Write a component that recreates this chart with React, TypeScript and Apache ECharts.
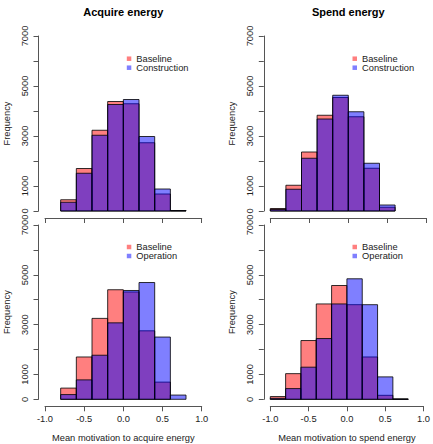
import React, { useEffect, useRef } from "react";
import * as echarts from "echarts";

// Histogram bin edges (width 0.2)
const binEdges = [-1.0, -0.8, -0.6, -0.4, -0.2, 0.0, 0.2, 0.4, 0.6, 0.8];

// Counts per bin (null = no bin drawn)
const acquireBaselineTop = [null, 450, 1700, 3230, 4380, 4290, 2730, 680, 15];
const acquireConstruction = [null, 350, 1510, 3030, 4260, 4460, 2980, 880, 20];
const spendBaselineTop = [100, 1030, 2360, 3830, 4540, 3770, 1710, 150, null];
const spendConstruction = [60, 870, 2110, 3680, 4630, 3970, 1910, 240, null];
const acquireBaselineBottom = [null, 450, 1700, 3250, 4400, 4310, 2750, 690, null];
const acquireOperation = [null, 190, 780, 1770, 3070, 4370, 4690, 2500, 170];
const spendBaselineBottom = [110, 1030, 2360, 3830, 4570, 3800, 1700, 160, 10];
const spendOperation = [40, 430, 1290, 2440, 3830, 4840, 3800, 900, 10];

const panelTitles = ["Acquire energy", "Spend energy"];
const xAxisTitles = ["Mean motivation to acquire energy", "Mean motivation to spend energy"];
const yTickLabels = [0, 1000, 3000, 5000, 7000];

const RED = "rgba(255,0,0,0.5)";
const BLUE = "rgba(0,0,255,0.5)";
const FONT = "Liberation Sans, Arial, Helvetica, sans-serif";
const FS = 9.3;

function toBins(counts: (number | null)[]) {
  const out: number[][] = [];
  counts.forEach((c, k) => {
    if (c != null) out.push([binEdges[k], binEdges[k + 1], c]);
  });
  return out;
}

function histSeries(name: string, counts: (number | null)[], color: string, idx: number) {
  return {
    type: "custom",
    name,
    xAxisIndex: idx,
    yAxisIndex: idx,
    itemStyle: { color },
    encode: { x: [0, 1], y: 2 },
    data: toBins(counts),
    renderItem: (params: any, api: any) => {
      const p0 = api.coord([api.value(0), api.value(2)]);
      const p1 = api.coord([api.value(1), 0]);
      return {
        type: "rect",
        shape: { x: p0[0], y: p0[1], width: p1[0] - p0[0], height: p1[1] - p0[1] },
        style: { fill: color, stroke: "rgba(0,0,0,0.8)", lineWidth: 1 },
      };
    },
  };
}

const grids = [
  { left: 45, top: 36, width: 156.7, height: 175 },
  { left: 270.3, top: 36, width: 156, height: 175 },
  { left: 45, top: 225, width: 156.7, height: 174.3 },
  { left: 270.3, top: 225, width: 156, height: 174.3 },
];

export default function App() {
  const ref = useRef<HTMLDivElement>(null);
  useEffect(() => {
    if (!ref.current) return;
    const chart = echarts.init(ref.current, undefined, { renderer: "svg" });
    const axisLineStyle = { color: "#555", width: 1 };
    const xAxes = grids.map((g, i) => ({
      type: "value",
      gridIndex: i,
      min: -1,
      max: 1,
      interval: 0.5,
      position: "bottom",
      offset: 7,
      axisLine: { show: true, onZero: false, lineStyle: axisLineStyle },
      axisTick: { show: true, length: 5, lineStyle: axisLineStyle },
      splitLine: { show: false },
      axisLabel: {
        show: i >= 2,
        margin: 8,
        fontSize: FS,
        fontFamily: FONT,
        color: "#222",
        formatter: (v: number) => v.toFixed(1),
      },
      name: i >= 2 ? xAxisTitles[i - 2] : "",
      nameLocation: "middle",
      nameGap: 27,
      nameTextStyle: { fontSize: FS, fontFamily: FONT, color: "#222" },
    }));
    const yAxes = grids.map((g, i) => ({
      type: "value",
      gridIndex: i,
      min: 0,
      max: 7000,
      interval: 1000,
      position: "left",
      offset: 6.5,
      axisLine: { show: true, onZero: false, lineStyle: axisLineStyle },
      axisTick: { show: true, length: 5, lineStyle: axisLineStyle },
      splitLine: { show: false },
      axisLabel: {
        rotate: 90,
        margin: 9,
        fontSize: FS,
        fontFamily: FONT,
        color: "#222",
        formatter: (v: number) => (yTickLabels.includes(v) ? String(v) : ""),
      },
      name: "Frequency",
      nameLocation: "middle",
      nameGap: 27,
      nameTextStyle: { fontSize: FS, fontFamily: FONT, color: "#222" },
    }));
    const legendBase = {
      orient: "vertical",
      icon: "rect",
      itemWidth: 4.5,
      itemHeight: 4.5,
      itemGap: 0,
      padding: 0,
      selectedMode: false,
      itemStyle: { borderWidth: 0 },
      textStyle: { fontSize: FS, fontFamily: FONT, color: "#222", lineHeight: 9, padding: [0, 0, 0, 0] },
    };
    chart.setOption({
      animation: false,
      backgroundColor: "#fff",
      grid: grids.map((g) => ({ ...g, containLabel: false })),
      xAxis: xAxes,
      yAxis: yAxes,
      legend: [
        { ...legendBase, left: 126.8, top: 54.2, data: ["Baseline", "Construction"] },
        { ...legendBase, left: 352.5, top: 54.2, data: ["Baseline", "Construction"] },
        { ...legendBase, left: 126.8, top: 242.5, data: ["Baseline", "Operation"] },
        { ...legendBase, left: 352.5, top: 242.5, data: ["Baseline", "Operation"] },
      ],
      graphic: [
        {
          type: "text",
          x: 123.3,
          y: 12.3,
          style: { text: panelTitles[0], fontSize: 11, fontWeight: "bold", fontFamily: FONT, fill: "#000", align: "center", verticalAlign: "middle" },
        },
        {
          type: "text",
          x: 348.3,
          y: 12.3,
          style: { text: panelTitles[1], fontSize: 11, fontWeight: "bold", fontFamily: FONT, fill: "#000", align: "center", verticalAlign: "middle" },
        },
      ],
      series: [
        histSeries("Baseline", acquireBaselineTop, RED, 0),
        histSeries("Construction", acquireConstruction, BLUE, 0),
        histSeries("Baseline", spendBaselineTop, RED, 1),
        histSeries("Construction", spendConstruction, BLUE, 1),
        histSeries("Baseline", acquireBaselineBottom, RED, 2),
        histSeries("Operation", acquireOperation, BLUE, 2),
        histSeries("Baseline", spendBaselineBottom, RED, 3),
        histSeries("Operation", spendOperation, BLUE, 3),
      ],
    });
    return () => chart.dispose();
  }, []);
  return (
    <div
      ref={ref}
      style={{ position: "fixed", left: 0, top: 0, width: 433, height: 444, background: "#fff" }}
    />
  );
}
